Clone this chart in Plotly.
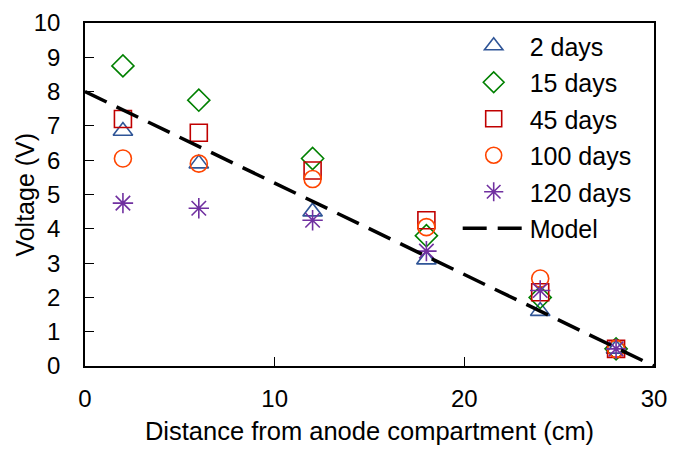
import plotly.graph_objects as go

distance = [2, 6, 12, 18, 24, 28]
v_2days = [6.85, 5.9, 4.5, 3.1, 1.6, 0.5]
v_15days = [8.75, 7.75, 6.05, 3.8, 2.0, 0.5]
v_45days = [7.2, 6.8, 5.7, 4.25, 2.15, 0.5]
v_100days = [6.05, 5.9, 5.45, 4.05, 2.55, 0.5]
v_120days = [4.75, 4.6, 4.25, 3.35, 2.2, 0.5]
model_x = [0, 30]
model_y = [8, 0]

series = [
    ("2 days", v_2days, "triangle-up-open", "#2F5597"),
    ("15 days", v_15days, "diamond-open", "#008000"),
    ("45 days", v_45days, "square-open", "#C00000"),
    ("100 days", v_100days, "circle-open", "#FF4500"),
    ("120 days", v_120days, "asterisk-open", "#7030A0"),
]

fig = go.Figure()
for i, (name, vals, sym, col) in enumerate(series):
    fig.add_trace(go.Scatter(
        x=distance, y=vals, mode="markers", name=name, legendgroup=f"g{i}",
        marker=dict(symbol=sym, size=17, color=col, line=dict(width=1.6, color=col)),
    ))
fig.add_trace(go.Scatter(
    x=model_x, y=model_y, mode="lines", name="Model", legendgroup="gm",
    line=dict(color="black", width=3.5, dash="24px,11px"),
))

fig.update_layout(
    width=673, height=450,
    margin=dict(l=85, r=19, t=23, b=84),
    plot_bgcolor="white", paper_bgcolor="white",
    font=dict(family="Liberation Sans, Arial", size=25, color="black"),
    showlegend=True,
    legend=dict(x=0.655, y=1.0, xanchor="left", yanchor="top", itemwidth=62,
                font=dict(size=25), tracegroupgap=1, bgcolor="rgba(0,0,0,0)"),
    xaxis=dict(range=[0, 30], tickvals=[0, 10, 20, 30], ticks="inside", ticklen=9,
               tickcolor="black", showline=True, linecolor="black", linewidth=1.5,
               mirror=True, showgrid=False, zeroline=False, ticklabelstandoff=10,
               automargin=False, tickfont=dict(size=24),
               title=dict(text="Distance from anode compartment (cm)", font=dict(size=25.5), standoff=12)),
    yaxis=dict(range=[0, 10], tickvals=list(range(11)), ticks="inside", ticklen=9,
               tickcolor="black", showline=True, linecolor="black", linewidth=1.5,
               mirror=True, showgrid=False, zeroline=False, ticklabelstandoff=18,
               automargin=False, tickfont=dict(size=24)),
    annotations=[dict(text="Voltage (V)", textangle=-90, xref="paper", yref="paper",
                      x=-0.107, y=0.5, xanchor="center", yanchor="middle",
                      showarrow=False, font=dict(size=25))],
)
fig.write_html("out.html", config={"displayModeBar": False},
               post_script="document.body.style.margin='0px';")
